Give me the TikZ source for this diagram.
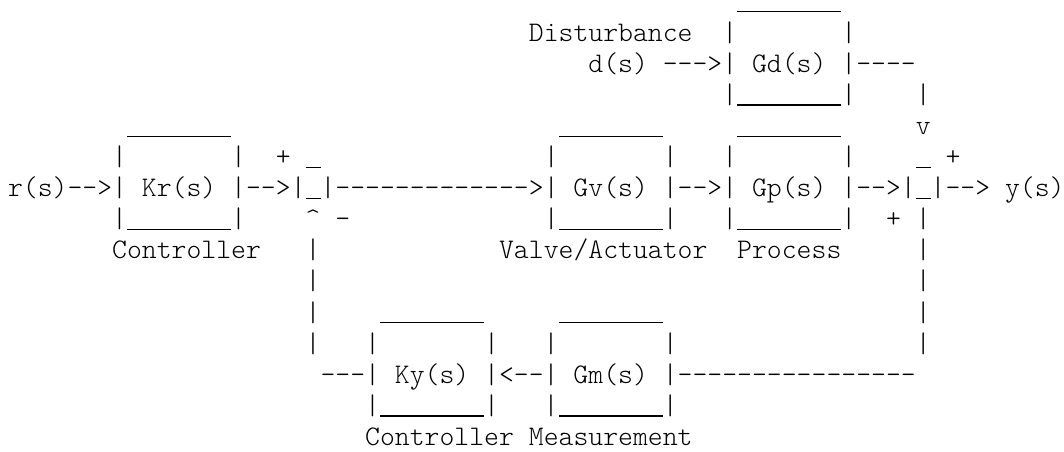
\documentclass[tikz,border=0pt]{standalone}
\usepackage{fontspec}
\setmonofont{lmmonolt10-regular.otf}
\newcommand\gap[1]{\hskip#1\fontcharwd\font`\x\relax}
\newcommand\usline[1]{\rule[\dimexpr-\fontchardp\font`\|+0.005em\relax]{#1\fontcharwd\font`\x}{0.04em}}
\newcommand\sevenus{\usline{7}}
\tikzset{
  asciirow/.style={anchor=base west, inner sep=0pt, outer sep=0pt,
    font=\ttfamily\fontsize{21.26}{24}\selectfont, text=black},
}
\def\rowz{10}
\def\rowp{31.1}
\def\colz{8}
\begin{document}
\begin{tikzpicture}[x=0.75pt,y=-0.75pt]
\useasboundingbox (0,0) rectangle (1064,451);
\fill[white] (0,0) rectangle (1064,451);
\node[asciirow] (r0)  at (\colz,{\rowz+0*\rowp})  {\gap{49}\sevenus};
\node[asciirow] (r1)  at (\colz,{\rowz+1*\rowp})  {\gap{35}Disturbance\gap{2}|\gap{7}|};
\node[asciirow] (r2)  at (\colz,{\rowz+2*\rowp})  {\gap{39}d(s)\gap{1}--->|\gap{1}Gd(s)\gap{1}|----};
\node[asciirow] (r3)  at (\colz,{\rowz+3*\rowp})  {\gap{48}|\sevenus|\gap{4}|};
\node[asciirow] (r4)  at (\colz,{\rowz+4*\rowp})  {\gap{8}\sevenus\gap{22}\sevenus\gap{5}\sevenus\gap{5}v};
\node[asciirow] (r5)  at (\colz,{\rowz+5*\rowp})  {\gap{7}|\gap{7}|\gap{2}+\gap{1}\usline{1}\gap{15}|\gap{7}|\gap{3}|\gap{7}|\gap{4}\usline{1}\gap{1}+};
\node[asciirow] (r6)  at (\colz,{\rowz+6*\rowp})  {r(s)-->|\gap{1}Kr(s)\gap{1}|-->|\usline{1}|------------->|\gap{1}Gv(s)\gap{1}|-->|\gap{1}Gp(s)\gap{1}|-->|\usline{1}|-->\gap{1}y(s)};
\node[asciirow] (r7)  at (\colz,{\rowz+7*\rowp})  {\gap{7}|\sevenus|\gap{4}\textasciicircum\gap{1}-\gap{13}|\sevenus|\gap{3}|\sevenus|\gap{2}+\gap{1}|};
\node[asciirow] (r8)  at (\colz,{\rowz+8*\rowp})  {\gap{7}Controller\gap{3}|\gap{12}Valve/Actuator\gap{2}Process\gap{5}|};
\node[asciirow] (r9)  at (\colz,{\rowz+9*\rowp})  {\gap{20}|\gap{40}|};
\node[asciirow] (r10) at (\colz,{\rowz+10*\rowp}) {\gap{20}|\gap{4}\sevenus\gap{5}\sevenus\gap{17}|};
\node[asciirow] (r11) at (\colz,{\rowz+11*\rowp}) {\gap{20}|\gap{3}|\gap{7}|\gap{3}|\gap{7}|\gap{16}|};
\node[asciirow] (r12) at (\colz,{\rowz+12*\rowp}) {\gap{21}---|\gap{1}Ky(s)\gap{1}|<--|\gap{1}Gm(s)\gap{1}|----------------};
\node[asciirow] (r13) at (\colz,{\rowz+13*\rowp}) {\gap{24}|\sevenus|\gap{3}|\sevenus|};
\node[asciirow] (r14) at (\colz,{\rowz+14*\rowp}) {\gap{24}Controller\gap{1}Measurement};
\end{tikzpicture}
\end{document}
